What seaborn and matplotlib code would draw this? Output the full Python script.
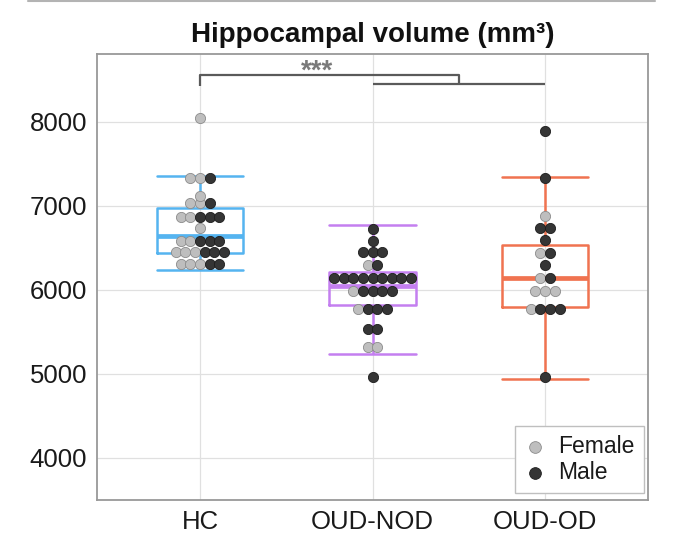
import numpy as np
import pandas as pd
import seaborn as sns
import matplotlib.pyplot as plt
from matplotlib.lines import Line2D

groups = ['HC', 'OUD-NOD', 'OUD-OD']
group_colors = ['#55b4f0', '#c47ff0', '#f07350']
sex_colors = {'Female': '#bebebe', 'Male': '#353535'}
sex_edges = {'Female': '#8c8c8c', 'Male': '#1e1e1e'}

# hippocampal volume (mm3) per subject
hc_female = [8040, 7326, 7326, 7115, 7028, 7028, 6869, 6869, 6739,
             6584, 6584, 6453, 6453, 6453, 6302, 6302, 6302]
hc_male = [7326, 7028, 6869, 6869, 6869, 6584, 6584, 6584,
           6453, 6453, 6453, 6302, 6302]
nod_female = [6294, 5985, 5770, 5314, 5314]
nod_male = [6723, 6580, 6445, 6445, 6445, 6294,
            6135, 6135, 6135, 6135, 6135, 6135, 6135, 6135, 6135,
            5985, 5985, 5985, 5985, 5770, 5770, 5770, 5528, 5528, 4957]
od_female = [6877, 6441, 6143, 5985, 5985, 5985, 5766]
od_male = [7893, 7326, 6731, 6731, 6592, 6441, 6294, 6143,
           5766, 5766, 5766, 4957]

# box summary per group: lower whisker, Q1, median, Q3, upper whisker
box_low = [6235, 5235, 4940]
box_q1 = [6440, 5815, 5798]
box_med = [6640, 6040, 6143]
box_q3 = [6969, 6215, 6532]
box_high = [7354, 6770, 7345]

female = [hc_female, nod_female, od_female]
male = [hc_male, nod_male, od_male]


def dot_rows(vals_f, vals_m, center, step=0.056):
    # centred dot stacks, one row per value, females on the left
    rows = []
    for v in sorted(set(vals_f) | set(vals_m)):
        sexes = ['Female'] * vals_f.count(v) + ['Male'] * vals_m.count(v)
        n = len(sexes)
        for k, s in enumerate(sexes):
            rows.append((center + (k - (n - 1) / 2) * step, v, s))
    return rows


rows = []
for i, g in enumerate(groups):
    rows += dot_rows(female[i], male[i], i)
dots = pd.DataFrame(rows, columns=['pos', 'volume', 'sex'])

box_rows = []
for i, g in enumerate(groups):
    for v in [box_low[i], box_q1[i], box_med[i], box_q3[i], box_high[i]]:
        box_rows.append((g, v))
box_df = pd.DataFrame(box_rows, columns=['group', 'volume'])

sns.set_style('whitegrid', {'axes.edgecolor': '0.6', 'grid.color': '0.88'})
plt.rcParams['font.family'] = ['Liberation Sans', 'DejaVu Sans']

fig, ax = plt.subplots(figsize=(6.8, 5.52), dpi=100)
fig.subplots_adjust(left=97 / 680, right=648 / 680, top=1 - 54 / 552, bottom=1 - 500 / 552)

for s in ['Female', 'Male']:
    sub = dots[dots['sex'] == s]
    sns.scatterplot(data=sub, x='pos', y='volume', color=sex_colors[s],
                    edgecolor=sex_edges[s], linewidth=0.6, s=54,
                    zorder=3, label=s, ax=ax)

sns.boxplot(data=box_df, x='group', y='volume', hue='group', order=groups,
            hue_order=groups, palette=group_colors, fill=False, width=0.5,
            whis=np.inf, linewidth=1.8, showfliers=False, legend=False,
            medianprops={'linewidth': 3.4}, ax=ax)

# caps as wide as the boxes
for ln in ax.lines:
    x = np.asarray(ln.get_xdata(), dtype=float)
    y = np.asarray(ln.get_ydata(), dtype=float)
    if len(x) == 2 and y[0] == y[1] and abs(abs(x[1] - x[0]) - 0.25) < 1e-6:
        c = x.mean()
        ln.set_xdata([c - 0.25, c + 0.25])

# significance bracket
bk = dict(color='#5a5a5a', lw=1.6, solid_capstyle='butt', zorder=4)
ax.plot([0, 0, 1.5, 1.5], [8425, 8552, 8552, 8445], **bk)
ax.plot([1, 2], [8445, 8445], **bk)
ax.text(0.68, 8515, '***', ha='center', va='baseline', fontsize=20,
        fontweight='bold', color='#7a7a7a')

ax.set_xlim(-0.597, 2.597)
ax.set_ylim(3496, 8806)
ax.set_yticks([4000, 5000, 6000, 7000, 8000])
ax.set_xticks([0, 1, 2])
ax.set_xticklabels(groups)
ax.grid(True, axis='both', color='0.88', lw=0.9)
ax.set_axisbelow(True)
ax.set_xlabel('')
ax.set_ylabel('')
ax.tick_params(axis='both', labelsize=18.5, length=4, width=1, color='0.6',
               labelcolor='#1a1a1a', pad=3)
for sp in ax.spines.values():
    sp.set_linewidth(1.3)
    sp.set_color('0.6')

ax.set_title('Hippocampal volume (mm³)', fontsize=20, fontweight='bold', pad=9,
             color='#111111')

leg = ax.legend(loc='lower right', bbox_to_anchor=(0.993, 0.016), borderaxespad=0,
                fontsize=16.5, frameon=True, fancybox=False, framealpha=1,
                edgecolor='0.75', handlelength=0.9, handletextpad=0.6,
                labelspacing=0.12, borderpad=0.4, markerscale=1.15)
leg.get_frame().set_linewidth(1)
for t in leg.get_texts():
    t.set_color('#1a1a1a')

fig.add_artist(Line2D([28 / 680, 655 / 680], [0.999, 0.999], color='0.7', lw=1.5))

plt.savefig('out.png', dpi=100)
